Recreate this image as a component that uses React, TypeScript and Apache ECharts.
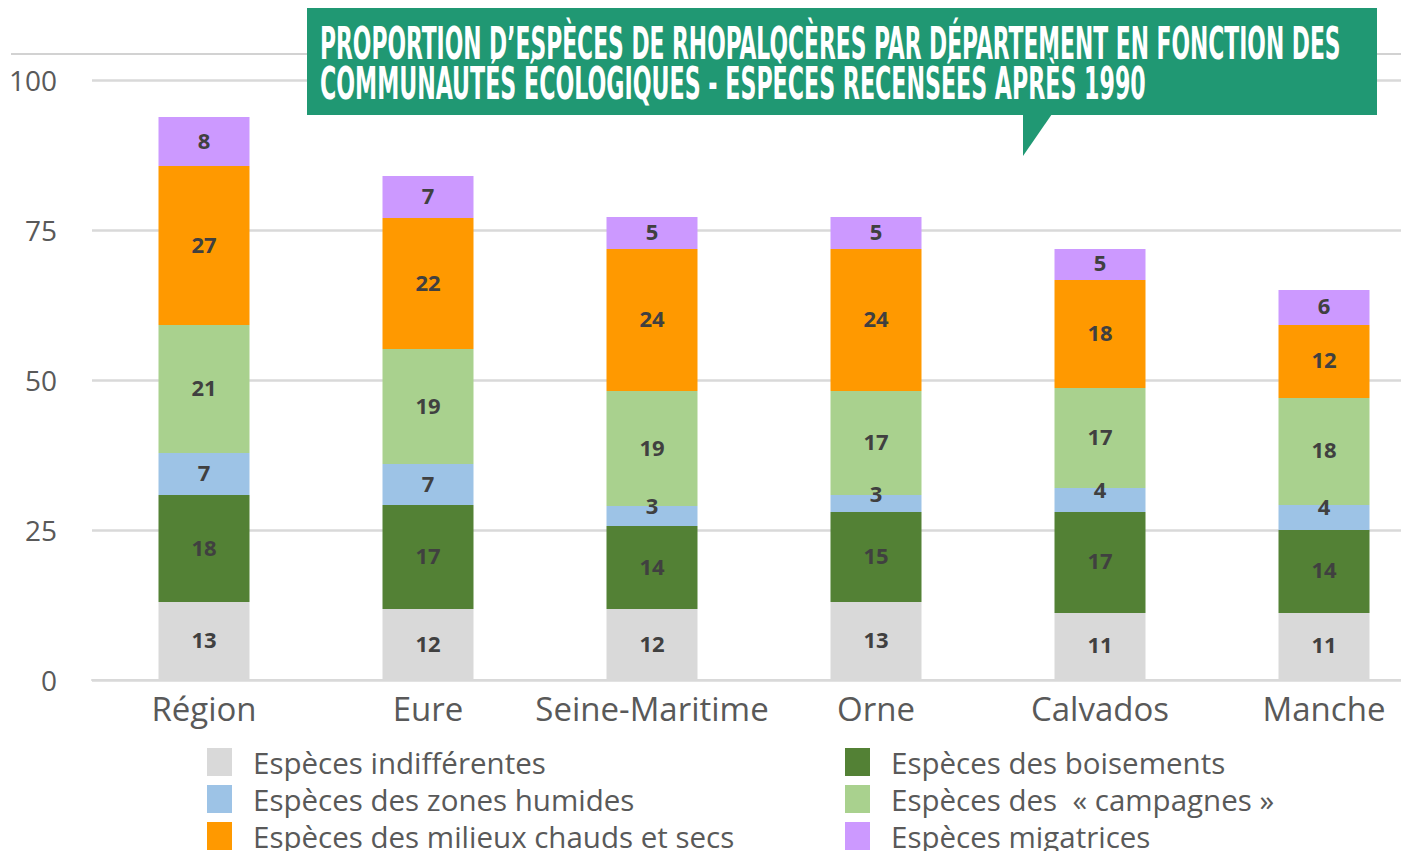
import React, { useEffect, useRef } from "react";
import * as echarts from "echarts";

const categories = ["Région", "Eure", "Seine-Maritime", "Orne", "Calvados", "Manche"];
const seriesNames = [
  "Espèces indifférentes",
  "Espèces des boisements",
  "Espèces des zones humides",
  "Espèces des  « campagnes »",
  "Espèces des milieux chauds et secs",
  "Espèces migatrices",
];
const indifferentes = [13.0, 11.83, 11.83, 13.0, 11.17, 11.17];
const boisements = [17.83, 17.33, 13.83, 15.0, 16.83, 13.83];
const zonesHumides = [7.0, 6.83, 3.33, 2.83, 4.0, 4.17];
const campagnes = [21.33, 19.17, 19.17, 17.33, 16.67, 17.83];
const chaudsSecs = [26.5, 21.83, 23.67, 23.67, 18.0, 12.17];
const migratrices = [8.17, 7.0, 5.33, 5.33, 5.17, 5.83];
const yTicks = [0, 25, 50, 75, 100];
const titleLines = [
  "PROPORTION D’ESPÈCES DE RHOPALOCÈRES PAR DÉPARTEMENT EN FONCTION DES",
  "COMMUNAUTÉS ÉCOLOGIQUES - ESPÈCES RECENSÉES APRÈS 1990",
];

const colors = ["#D9D9D9", "#538135", "#9DC3E6", "#A9D18E", "#FF9900", "#CC99FF"];
const values = [indifferentes, boisements, zonesHumides, campagnes, chaudsSecs, migratrices];
const FONT = "'Open Sans', 'Noto Sans', sans-serif";
const TITLE_FONT = "'DejaVu Sans Condensed', 'Roboto', sans-serif";

export default function App() {
  const ref = useRef<HTMLDivElement>(null);
  useEffect(() => {
    document.body.style.margin = "0";
    const chart = echarts.init(ref.current!, null, { renderer: "svg" });
    const series = values.map((arr, i) => ({
      name: seriesNames[i],
      type: "bar",
      stack: "total",
      barWidth: 91,
      itemStyle: { color: colors[i] },
      data: arr.map((v) => ({
        value: v,
        label: { offset: [0, v < 5 ? -11 : -2] },
      })),
      label: {
        show: true,
        position: "inside",
        formatter: (p: any) => String(Math.round(p.value)),
        fontFamily: FONT,
        fontWeight: "bold",
        fontSize: 22,
        color: "#404040",
      },
    }));
    const legendBase = {
      orient: "vertical",
      top: 747,
      padding: 0,
      itemWidth: 25,
      itemHeight: 28,
      itemGap: 7,
      icon: "rect",
      height: 200,
      textStyle: { fontFamily: FONT, fontSize: 29.5, color: "#595959", padding: [0, 0, 0, 16] },
    };
    chart.setOption({
      animation: false,
      backgroundColor: "#ffffff",
      grid: { left: 92, top: 80, right: 0, bottom: 220, containLabel: false },
      xAxis: {
        type: "category",
        data: categories,
        axisLine: { show: true, lineStyle: { color: "#D9D9D9", width: 2 } },
        axisTick: { show: false },
        axisLabel: { interval: 0, fontFamily: FONT, fontSize: 33, color: "#595959", margin: 12 },
      },
      yAxis: {
        type: "value",
        min: yTicks[0],
        max: yTicks[yTicks.length - 1],
        interval: 25,
        axisLine: { show: false },
        axisTick: { show: false },
        splitLine: { lineStyle: { color: "#D9D9D9", width: 2.5 } },
        axisLabel: { fontFamily: FONT, fontSize: 28, color: "#595959", margin: 35 },
      },
      legend: [
        { ...legendBase, left: 207, data: [seriesNames[0], seriesNames[2], seriesNames[4]] },
        { ...legendBase, left: 845, data: [seriesNames[1], seriesNames[3], seriesNames[5]] },
      ],
      graphic: [
        {
          type: "line",
          z: 1,
          shape: { x1: 11, y1: 54, x2: 1401, y2: 54 },
          style: { stroke: "#A6A6A6", lineWidth: 1.2 },
        },
        {
          type: "rect",
          z: 100,
          shape: { x: 307, y: 8, width: 1070, height: 107 },
          style: { fill: "#209873" },
        },
        {
          type: "polygon",
          z: 100,
          shape: { points: [[1023, 114], [1052, 114], [1023, 156]] },
          style: { fill: "#209873" },
        },
        {
          type: "text",
          z: 101,
          x: 320,
          y: 44,
          scaleX: 0.552,
          style: {
            text: titleLines[0],
            fill: "#ffffff",
            font: `bold 44px ${TITLE_FONT}`,
            verticalAlign: "middle",
          },
        },
        {
          type: "text",
          z: 101,
          x: 320,
          y: 84,
          scaleX: 0.56,
          style: {
            text: titleLines[1],
            fill: "#ffffff",
            font: `bold 44px ${TITLE_FONT}`,
            verticalAlign: "middle",
          },
        },
      ],
      series,
    });
    return () => chart.dispose();
  }, []);
  return (
    <div style={{ position: "absolute", left: 0, top: 0, width: 1401, height: 851, overflow: "hidden" }}>
      <div ref={ref} style={{ position: "absolute", left: 0, top: 0, width: 1436, height: 900 }} />
    </div>
  );
}
